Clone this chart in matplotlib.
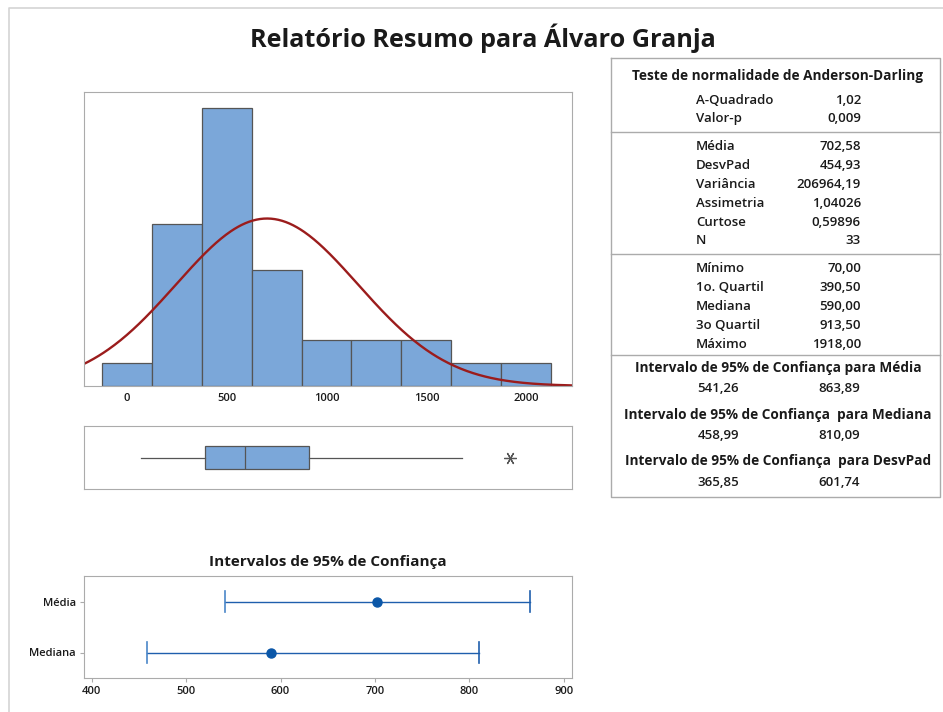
import numpy as np
import matplotlib.pyplot as plt

plt.rcParams['font.family'] = ['Open Sans', 'DejaVu Sans']

# Histogram data (bin width 250)
bin_centers = [0, 250, 500, 750, 1000, 1250, 1500, 1750, 2000]
counts = [1, 7, 12, 5, 2, 2, 2, 1, 1]
bin_width = 250

# Summary statistics
n_obs = 33
mean = 702.58
std = 454.93
box_min = 70.0
q1 = 390.5
median = 590.0
q3 = 913.5
whisker_hi = 1680.0
outliers = [1918.0]

# Confidence intervals
ci_labels = ["Média", "Mediana"]
ci_center = [702.58, 590.00]
ci_low = [541.26, 458.99]
ci_high = [863.89, 810.09]

# Table texts
ad_title = "Teste de normalidade de Anderson-Darling"
ad_rows = [("A-Quadrado", "1,02"), ("Valor-p", "0,009")]
desc_rows = [("Média", "702,58"), ("DesvPad", "454,93"), ("Variância", "206964,19"),
             ("Assimetria", "1,04026"), ("Curtose", "0,59896"), ("N", "33")]
quart_rows = [("Mínimo", "70,00"), ("1o. Quartil", "390,50"), ("Mediana", "590,00"),
              ("3o Quartil", "913,50"), ("Máximo", "1918,00")]
ci_rows = [("Intervalo de 95% de Confiança para Média", "541,26", "863,89"),
           ("Intervalo de 95% de Confiança  para Mediana", "458,99", "810,09"),
           ("Intervalo de 95% de Confiança  para DesvPad", "365,85", "601,74")]

W, H = 943, 712
BLUE = "#7BA7D9"
EDGE = "#555555"
FRAME = "#ABABAB"
TXT = "#1A1A1A"


def rect(l, t, r, b):
    return [l / W, 1 - b / H, (r - l) / W, (b - t) / H]


fig = plt.figure(figsize=(W / 100, H / 100), dpi=100)

# background layer in pixel coords
bg = fig.add_axes([0, 0, 1, 1], zorder=-1)
bg.set_xlim(0, W)
bg.set_ylim(H, 0)
bg.axis("off")
bg.plot([9, 9, W], [H, 8, 8], color="#D4D4D4", lw=1.2)

bg.text(483, 38, "Relatório Resumo para Álvaro Granja", ha="center", va="center",
        fontsize=18.2, fontweight="bold", color=TXT)
bg.text(328, 562, "Intervalos de 95% de Confiança", ha="center", va="center",
        fontsize=11, fontweight="bold", color=TXT)

# ---- Histogram ----
ax_hist = fig.add_axes(rect(84, 92, 572, 386))
ax_hist.bar(bin_centers, counts, width=bin_width, color=BLUE, edgecolor=EDGE, linewidth=0.9)
xlim = (-213, 2228)
xs = np.linspace(xlim[0], xlim[1], 400)
curve = n_obs * bin_width * np.exp(-0.5 * ((xs - mean) / std) ** 2) / (std * np.sqrt(2 * np.pi))
ax_hist.plot(xs, curve, color="#9B1C1C", lw=1.7)
ax_hist.set_xlim(xlim)
ax_hist.set_ylim(0, 12.7)
ax_hist.set_yticks([])
ax_hist.set_xticks([0, 500, 1000, 1500, 2000])
ax_hist.tick_params(axis="x", length=0, pad=5, labelsize=8, labelcolor=TXT)
for lbl in ax_hist.get_xticklabels():
    lbl.set_fontweight("semibold")
for s in ax_hist.spines.values():
    s.set_color(FRAME)

# ---- Boxplot ----
ax_box = fig.add_axes(rect(84, 426, 572, 489))
stats = [dict(med=median, q1=q1, q3=q3, whislo=box_min, whishi=whisker_hi, fliers=outliers)]
ax_box.bxp(stats, positions=[0.5], widths=0.35, vert=False, showcaps=False, patch_artist=True,
           boxprops=dict(facecolor=BLUE, edgecolor=EDGE, linewidth=0.9),
           medianprops=dict(color=EDGE, linewidth=0.9),
           whiskerprops=dict(color=EDGE, linewidth=0.9),
           flierprops=dict(marker=(6, 2, 90), markersize=9, markeredgecolor=EDGE,
                           markeredgewidth=0.9))
ax_box.set_xlim(xlim)
ax_box.set_ylim(0, 1)
ax_box.set_xticks([])
ax_box.set_yticks([])
for s in ax_box.spines.values():
    s.set_color(FRAME)

# ---- Confidence intervals ----
ax_ci = fig.add_axes(rect(84, 576, 572, 678))
ypos = [1, 0]
for y, c, lo, hi in zip(ypos, ci_center, ci_low, ci_high):
    ax_ci.plot([lo, hi], [y, y], color="#1F5FAD", lw=1.0)
    ax_ci.plot([lo, lo], [y - 0.2, y + 0.2], color="#4A86C8", lw=1.2)
    ax_ci.plot([hi, hi], [y - 0.2, y + 0.2], color="#1F5FAD", lw=1.2)
    ax_ci.plot(c, y, "o", color="#0B57A8", markersize=6.5)
ax_ci.set_xlim(392, 908.5)
ax_ci.set_ylim(-0.5, 1.5)
ax_ci.set_yticks(ypos)
ax_ci.set_yticklabels(ci_labels)
ax_ci.set_xticks([400, 500, 600, 700, 800, 900])
ax_ci.tick_params(length=3, color=FRAME, labelsize=8, labelcolor=TXT, pad=3)
for lbl in ax_ci.get_xticklabels() + ax_ci.get_yticklabels():
    lbl.set_fontweight("semibold")
for s in ax_ci.spines.values():
    s.set_color(FRAME)

# ---- Summary table ----
tl, tr, tt, tb = 611, 940, 58, 497
bg.plot([tl, tr, tr, tl, tl], [tt, tt, tb, tb, tt], color=FRAME, lw=1.0)
for sy in [132, 254, 355]:
    bg.plot([tl, tr], [sy, sy], color=FRAME, lw=1.0)

fs = 9.5
fh = 9.8
bg.text(777, 76, ad_title, ha="center", va="center", fontsize=fh, fontweight="bold", color=TXT)


def rows(items, y0, step=18.8):
    for i, (lab, val) in enumerate(items):
        y = y0 + i * step
        bg.text(696, y, lab, ha="left", va="center", fontsize=fs, fontweight="semibold", color=TXT)
        bg.text(861, y, val, ha="right", va="center", fontsize=fs, fontweight="semibold", color=TXT)


rows(ad_rows, 100)
rows(desc_rows, 147)
rows(quart_rows, 269)

for i, (head, lo, hi) in enumerate(ci_rows):
    y = 368 + i * 46.5
    bg.text(778, y, head, ha="center", va="center", fontsize=fh, fontweight="bold", color=TXT)
    bg.text(718, y + 21, lo, ha="center", va="center", fontsize=fs, fontweight="semibold", color=TXT)
    bg.text(839, y + 21, hi, ha="center", va="center", fontsize=fs, fontweight="semibold", color=TXT)

fig.savefig("out.png", dpi=100)
